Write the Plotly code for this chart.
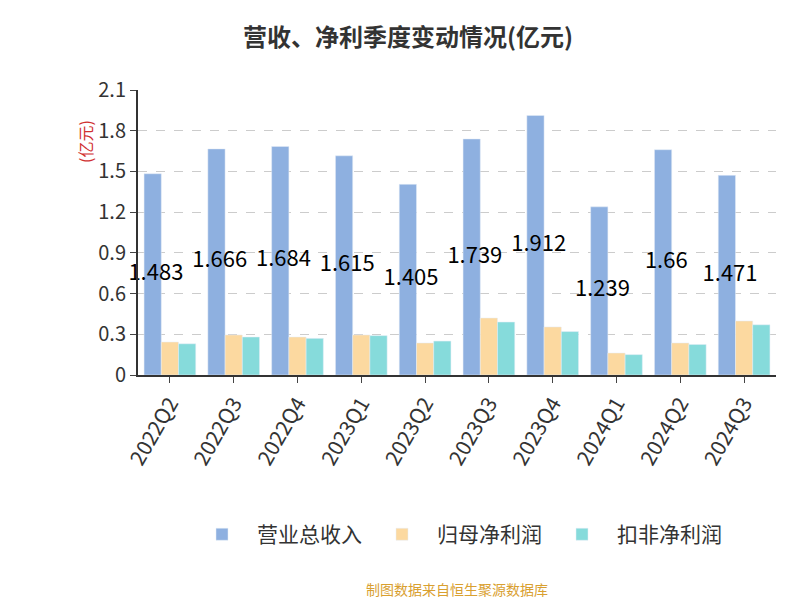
import plotly.graph_objects as go

cats = ["2022Q2","2022Q3","2022Q4","2023Q1","2023Q2","2023Q3","2023Q4","2024Q1","2024Q2","2024Q3"]
revenue = [1.483,1.666,1.684,1.615,1.405,1.739,1.912,1.239,1.66,1.471]
parent_np = [0.243,0.295,0.28,0.295,0.236,0.42,0.354,0.162,0.236,0.398]
deducted_np = [0.23,0.28,0.27,0.29,0.25,0.39,0.32,0.15,0.225,0.37]
rev_labels = ["1.483","1.666","1.684","1.615","1.405","1.739","1.912","1.239","1.66","1.471"]

x = list(range(len(cats)))
w = 0.27
fig = go.Figure()
fig.add_bar(x=[i - w for i in x], y=revenue, width=w, name="营业总收入", marker_color="#8eb0e0")
fig.add_bar(x=x, y=parent_np, width=w, name="归母净利润", marker_color="#fcd9a0")
fig.add_bar(x=[i + w for i in x], y=deducted_np, width=w, name="扣非净利润", marker_color="#86dbdb")
fig.add_scatter(x=[i - w + 0.05 for i in x], y=[v / 2 for v in revenue], mode="text", text=rev_labels,
                textfont=dict(size=22, color="#000"), showlegend=False, hoverinfo="skip", cliponaxis=False)

fig.update_layout(
    width=800, height=600, barmode="overlay",
    paper_bgcolor="white", plot_bgcolor="white",
    font=dict(family="Noto Sans CJK SC", color="#333"),
    title=dict(text="<b>营收、净利季度变动情况(亿元)</b>", x=0.5, y=0.965, xanchor="center",
               font=dict(size=24, color="#333")),
    margin=dict(l=130, r=32, t=82, b=233),
    legend=dict(orientation="h", x=0.5, xanchor="center", y=-0.56, yanchor="middle",
                font=dict(size=21, color="#333"), itemwidth=60),
    annotations=[
        dict(text="(亿元)", textangle=-90, x=-0.105, y=0.9, xref="paper", yref="paper", showarrow=False,
             font=dict(size=16, color="#d03030")),
        dict(text="制图数据来自恒生聚源数据库", x=0.5, xref="paper", xanchor="center", y=-0.75, yref="paper",
             yanchor="middle", showarrow=False, font=dict(size=14, color="#d9a030")),
    ],
)
fig.update_xaxes(tickmode="array", tickvals=x, ticktext=cats, tickangle=-60, range=[-0.5, 9.5],
                 showline=True, linecolor="#333", linewidth=2, ticks="outside", ticklen=6,
                 tickfont=dict(size=21, color="#333"), showgrid=False)
fig.update_yaxes(range=[0, 2.1], tickvals=[0,0.3,0.6,0.9,1.2,1.5,1.8,2.1],
                 ticktext=["0","0.3","0.6","0.9","1.2","1.5","1.8","2.1"],
                 showline=True, linecolor="#333", linewidth=2, ticks="outside", ticklen=6,
                 tickfont=dict(size=20, color="#333"), gridcolor="#cccccc", griddash="dash", zeroline=False)
fig.write_html("out.html")
